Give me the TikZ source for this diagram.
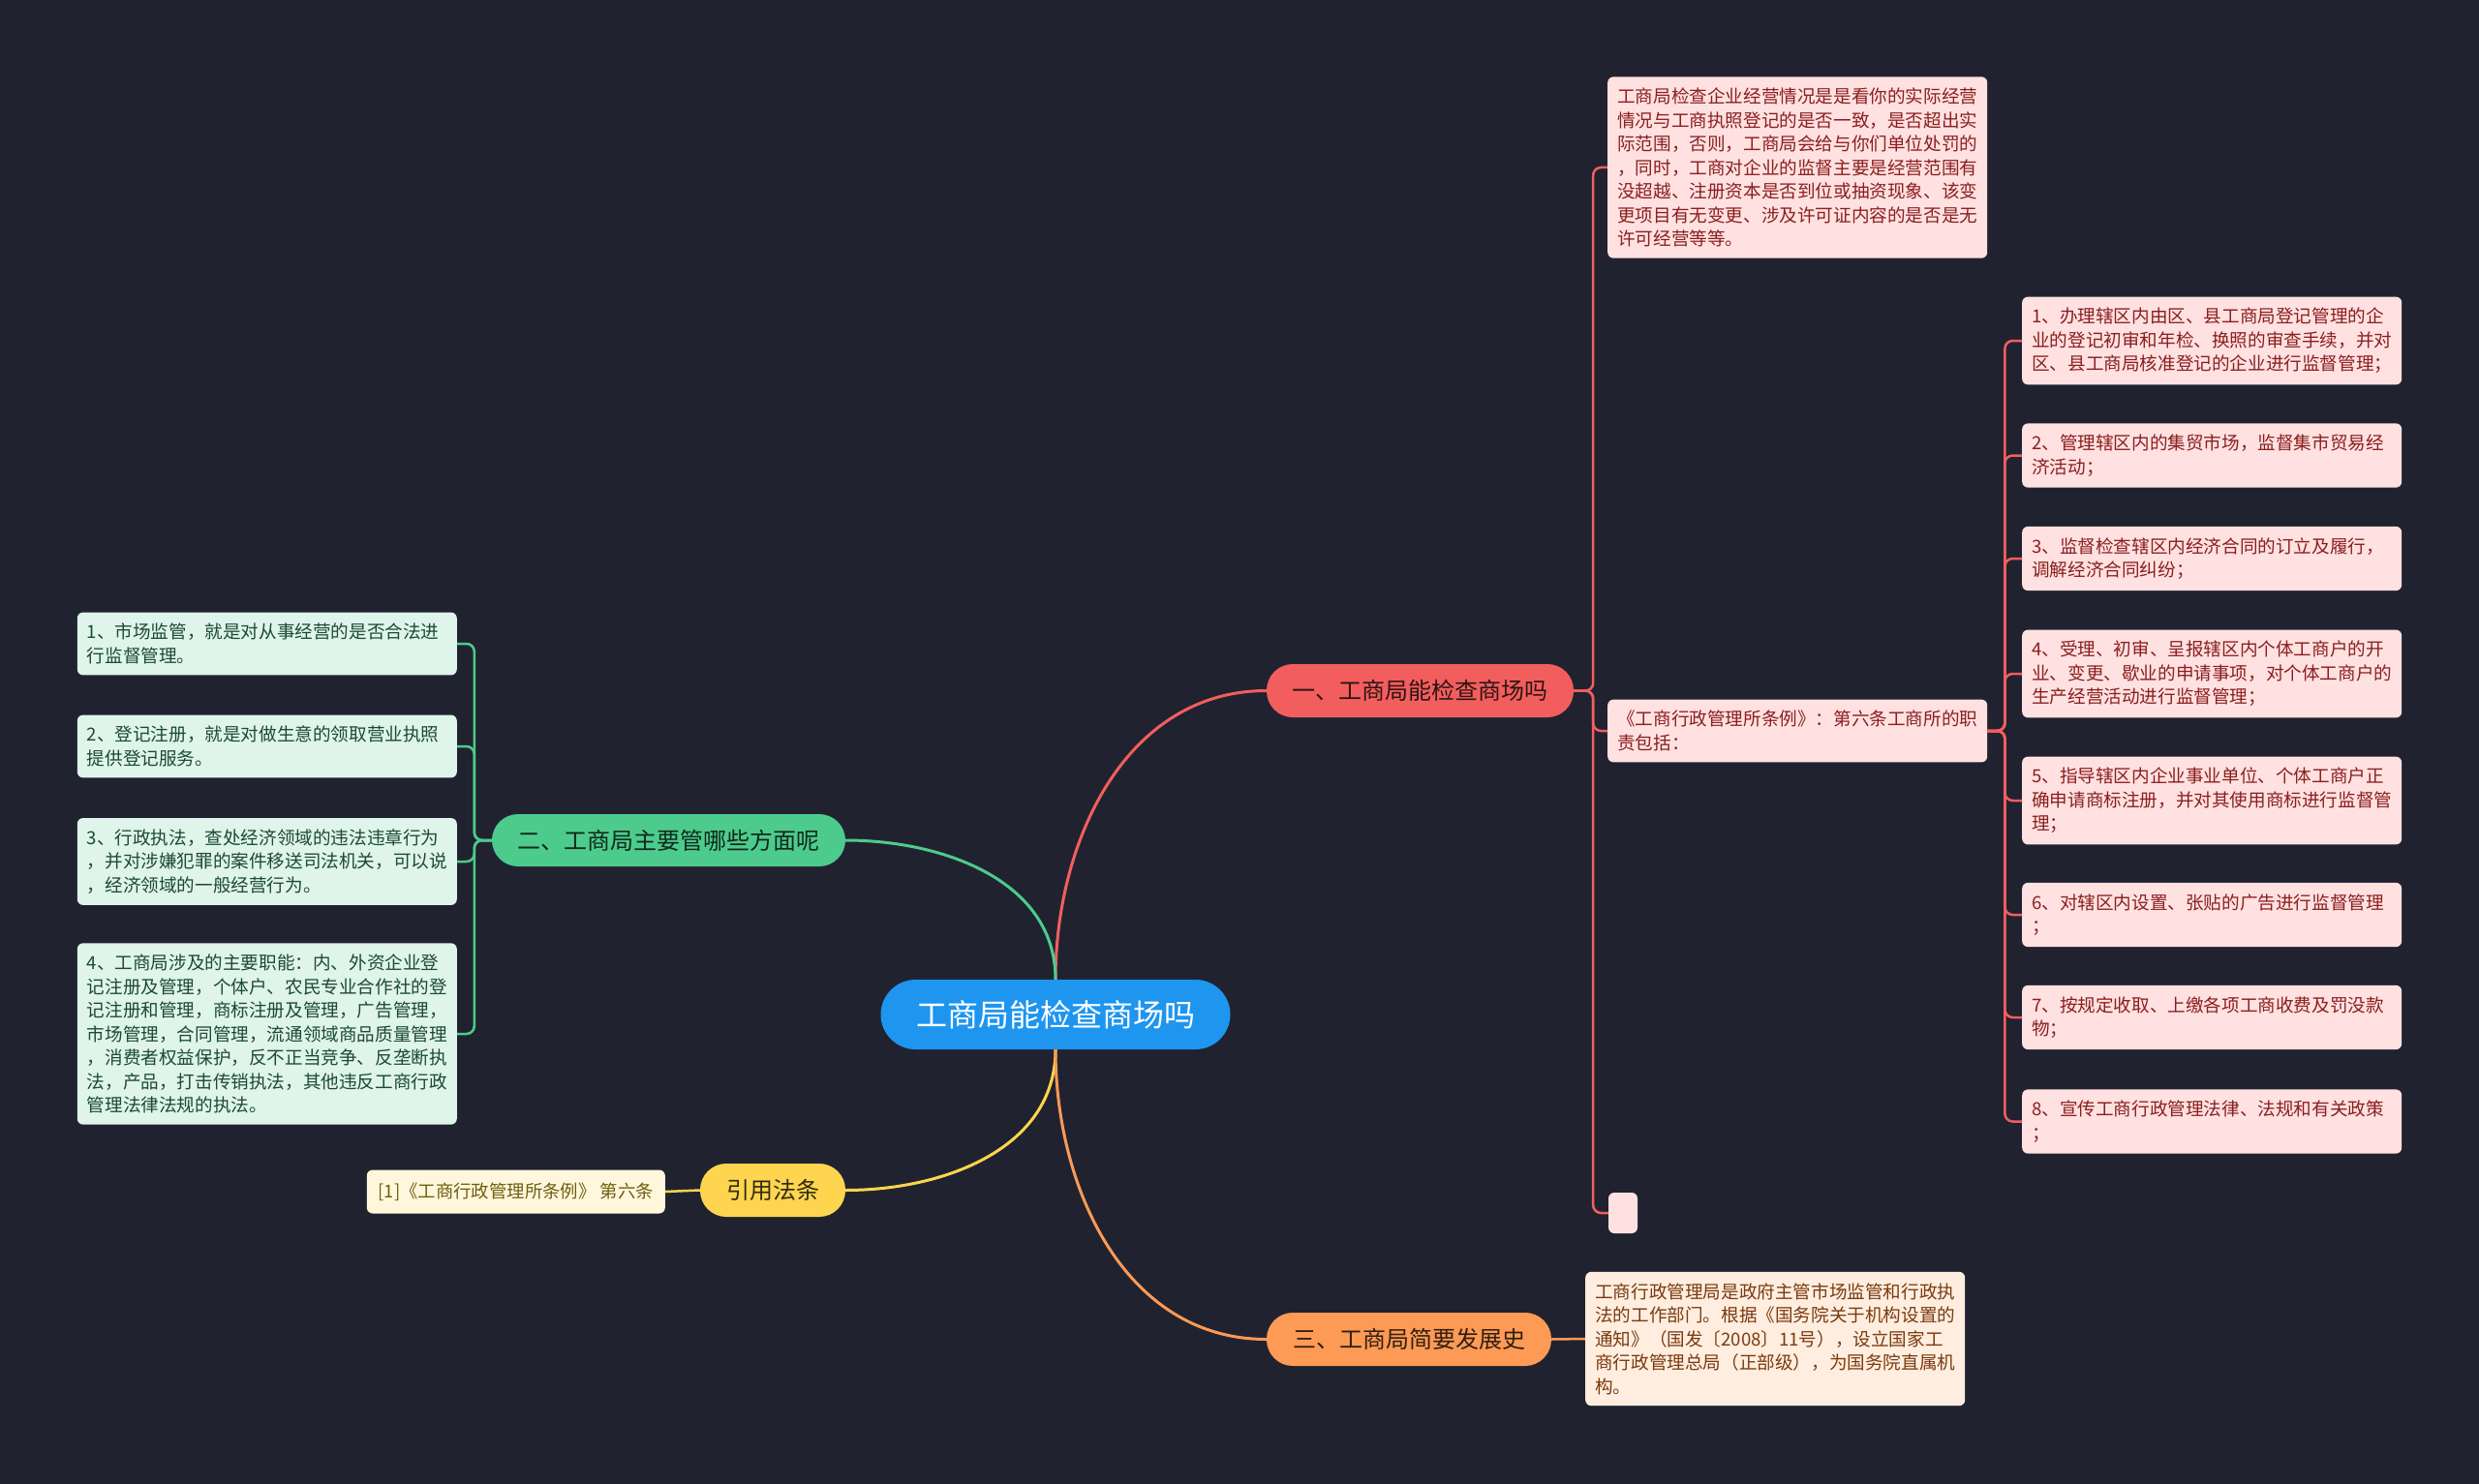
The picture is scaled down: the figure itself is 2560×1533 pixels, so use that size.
\documentclass[tikz,border=0pt]{standalone}
\usepackage{fontspec}
\setmainfont{Noto Sans CJK SC}

\definecolor{bgcol}{HTML}{20232F}
\definecolor{rootblue}{HTML}{1E95EF}
\definecolor{redtopic}{HTML}{F25E5E}
\definecolor{greentopic}{HTML}{4DCB8D}
\definecolor{yellowtopic}{HTML}{FDD54E}
\definecolor{orangetopic}{HTML}{FD9A55}
\definecolor{redfill}{HTML}{FFE1E1}
\definecolor{redtext}{HTML}{8B1E1E}
\definecolor{greenfill}{HTML}{DFF4EA}
\definecolor{greentext}{HTML}{1C4A32}
\definecolor{yellowfill}{HTML}{FFF7DC}
\definecolor{yellowtext}{HTML}{6E5E10}
\definecolor{orangefill}{HTML}{FFEEDF}
\definecolor{orangetext}{HTML}{7A3A10}

\tikzset{
  rootnode/.style={fill=rootblue, text=white, rounded corners=36pt,
    minimum width=361pt, minimum height=72pt, inner sep=0pt,
    font=\fontsize{32pt}{38pt}\selectfont},
  topicnode/.style={rounded corners=27pt, minimum height=55pt, inner sep=0pt,
    font=\fontsize{24pt}{28pt}\selectfont},
  leafnode/.style={rounded corners=6pt, text width=372pt, align=left,
    inner xsep=10pt, inner ysep=11.5pt,
    font=\fontsize{18.6pt}{24.5pt}\selectfont},
  redleaf/.style={leafnode, fill=redfill, text=redtext},
  greenleaf/.style={leafnode, fill=greenfill, text=greentext},
  orangeleaf/.style={leafnode, fill=orangefill, text=orangetext},
  mainlink/.style={line width=3pt},
  sublink/.style={line width=2.5pt, rounded corners=8pt},
}

\begin{document}
\begin{tikzpicture}[x=1pt,y=1pt]
  % Background
  \fill[bgcol] (0,0) rectangle (2560,-1533);
  \useasboundingbox (0,0) rectangle (2560,-1533);

  % Root and main topics
  \node[rootnode] (root) at (1090,-1048) {工商局能检查商场吗};
  \node[topicnode, fill=redtopic, text=black!80!redtopic, minimum width=317pt] (b1) at (1466.5,-713.5) {一、工商局能检查商场吗};
  \node[topicnode, fill=greentopic, text=black!80!greentopic, minimum width=365pt, minimum height=54pt] (b2) at (690.5,-868) {二、工商局主要管哪些方面呢};
  \node[topicnode, fill=orangetopic, text=black!80!orangetopic, minimum width=294pt] (b3) at (1455,-1383.5) {三、工商局简要发展史};
  \node[topicnode, fill=yellowtopic, text=black!80!yellowtopic, minimum width=150pt] (b4) at (798,-1229.5) {引用法条};

  % Links from the root
  \draw[mainlink, redtopic] (root.north) to[out=90,in=180] (b1.west);
  \draw[mainlink, greentopic] (root.north) to[out=90,in=0] (b2.east);
  \draw[mainlink, yellowtopic] (root.south) to[out=-90,in=0] (b4.east);
  \draw[mainlink, orangetopic] (root.south) to[out=-90,in=180] (b3.west);

  % Red branch
  \node[redleaf, anchor=west] (rA) at (1660,-173) {工商局检查企业经营情况是是看你的实际经营\\情况与工商执照登记的是否一致，是否超出实\\际范围，否则，工商局会给与你们单位处罚的\\，同时，工商对企业的监督主要是经营范围有\\没超越、注册资本是否到位或抽资现象、该变\\更项目有无变更、涉及许可证内容的是否是无\\许可经营等等。};
  \node[redleaf, anchor=west] (rB) at (1660,-755) {《工商行政管理所条例》：第六条工商所的职\\责包括：};
  \node[fill=redfill, rounded corners=6pt, minimum width=30pt, minimum height=42pt, inner sep=0pt] (rC) at (1676,-1253) {};
  \foreach \n in {rA,rB,rC}
    \draw[sublink, redtopic] (b1.east) -- ++(20,0) |- (\n.west);

  % Duties listed under the regulation
  \foreach \y/\txt [count=\i] in {
      352/{1、办理辖区内由区、县工商局登记管理的企\\业的登记初审和年检、换照的审查手续，并对\\区、县工商局核准登记的企业进行监督管理；},
      470.5/{2、管理辖区内的集贸市场，监督集市贸易经\\济活动；},
      577/{3、监督检查辖区内经济合同的订立及履行，\\调解经济合同纠纷；},
      696/{4、受理、初审、呈报辖区内个体工商户的开\\业、变更、歇业的申请事项，对个体工商户的\\生产经营活动进行监督管理；},
      827/{5、指导辖区内企业事业单位、个体工商户正\\确申请商标注册，并对其使用商标进行监督管\\理；},
      945/{6、对辖区内设置、张贴的广告进行监督管理\\；},
      1051/{7、按规定收取、上缴各项工商收费及罚没款\\物；},
      1158.5/{8、宣传工商行政管理法律、法规和有关政策\\；}} {
    \node[redleaf, anchor=west] (it\i) at (2088,-\y) {\txt};
    \draw[sublink, redtopic] (rB.east) -- ++(18,0) |- (it\i.west);
  }

  % Green branch
  \node[greenleaf, anchor=east] (g1) at (472,-665) {1、市场监管，就是对从事经营的是否合法进\\行监督管理。};
  \node[greenleaf, anchor=east] (g2) at (472,-771) {2、登记注册，就是对做生意的领取营业执照\\提供登记服务。};
  \node[greenleaf, anchor=east] (g3) at (472,-890) {3、行政执法，查处经济领域的违法违章行为\\，并对涉嫌犯罪的案件移送司法机关，可以说\\，经济领域的一般经营行为。};
  \node[greenleaf, anchor=east] (g4) at (472,-1068) {4、工商局涉及的主要职能：内、外资企业登\\记注册及管理，个体户、农民专业合作社的登\\记注册和管理，商标注册及管理，广告管理，\\市场管理，合同管理，流通领域商品质量管理\\，消费者权益保护，反不正当竞争、反垄断执\\法，产品，打击传销执法，其他违反工商行政\\管理法律法规的执法。};
  \foreach \n in {g1,g2,g3,g4}
    \draw[sublink, greentopic] (b2.west) -- ++(-18,0) |- (\n.east);

  % Yellow branch
  \node[fill=yellowfill, text=yellowtext, rounded corners=6pt, minimum width=308pt, minimum height=45pt, inner sep=0pt, font=\fontsize{18.4pt}{20pt}\selectfont, anchor=east] (y1) at (687,-1231) {[1]《工商行政管理所条例》\hspace{4pt}第六条};
  \draw[sublink, yellowtopic] (b4.west) -- (y1.east);

  % Orange branch
  \node[orangeleaf, anchor=west] (o1) at (1637,-1383) {工商行政管理局是政府主管市场监管和行政执\\法的工作部门。根据《国务院关于机构设置的\\通知》（国发〔2008〕11号），设立国家工\\商行政管理总局（正部级），为国务院直属机\\构。};
  \draw[sublink, orangetopic] (b3.east) -- (o1.west);
\end{tikzpicture}
\end{document}
